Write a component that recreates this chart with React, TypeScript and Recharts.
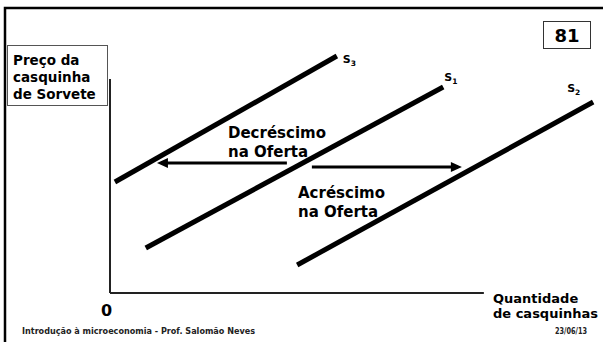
import * as React from "react";
import { LineChart, Line, XAxis, YAxis, ReferenceLine } from "recharts";

// supply curves: quantity (x) and price (y), two ends each
const s3Qty = [0.1, 4.63];
const s3Price = [2.22, 4.74];
const s1Qty = [0.73, 6.8];
const s1Price = [0.9, 4.12];
const s2Qty = [3.82, 9.86];
const s2Price = [0.56, 3.82];

// shift arrows: start -> end
const decreaseQty = [3.61, 1.04];
const decreasePrice = [2.6, 2.6];
const increaseQty = [4.12, 7.1];
const increasePrice = [2.52, 2.52];

// axes extent
const axisQtyMax = 7.63;
const axisPriceMax = 4.28;

const toPoints = (q: number[], p: number[]) => q.map((v, i) => ({ q: v, p: p[i] }));

const FONT = "'DejaVu Sans', Verdana, sans-serif";

function supplyLabel(sub: string, dx: number, dy: number) {
  return (props: any) => {
    if (props.index !== 1) return <g key={props.index} />;
    return (
      <text
        key="lbl"
        x={props.x + dx}
        y={props.y + dy}
        fontFamily={FONT}
        fontWeight="bold"
        fontSize={11}
        fill="#000"
      >
        S
        <tspan fontSize={7.5} dy={3}>
          {sub}
        </tspan>
      </text>
    );
  };
}

function arrowHead(dir: 1 | -1) {
  return (props: any) => {
    const { cx, cy, index } = props;
    if (index !== 1 || cx == null) return <g key={index} />;
    const tip = cx + dir * 4;
    const base = cx - dir * 7;
    return (
      <polygon
        key="head"
        points={`${tip},${cy} ${base},${cy - 5} ${base},${cy + 5}`}
        fill="#000"
      />
    );
  };
}

export default function App() {
  const line = { stroke: "#000", isAnimationActive: false, activeDot: false, type: "linear" as const };
  return (
    <div style={{ position: "absolute", left: 0, top: 0, width: 603, height: 342, background: "#fff" }}>
      <LineChart width={603} height={342} margin={{ top: 43, right: 3, bottom: 49, left: 110 }}>
        <XAxis type="number" dataKey="q" domain={[0, 10]} hide allowDataOverflow />
        <YAxis type="number" dataKey="p" domain={[0, 5]} hide allowDataOverflow />
        <ReferenceLine
          segment={[{ x: 0, y: 0 }, { x: 0, y: axisPriceMax }]}
          stroke="#222"
          strokeWidth={2}
          ifOverflow="visible"
        />
        <ReferenceLine
          segment={[{ x: 0, y: 0 }, { x: axisQtyMax, y: 0 }]}
          stroke="#222"
          strokeWidth={2}
          ifOverflow="visible"
        />
        <Line {...line} data={toPoints(s3Qty, s3Price)} dataKey="p" strokeWidth={5} dot={false} label={supplyLabel("3", 6, 7)} />
        <Line {...line} data={toPoints(s1Qty, s1Price)} dataKey="p" strokeWidth={5} dot={false} label={supplyLabel("1", 1, -6)} />
        <Line {...line} data={toPoints(s2Qty, s2Price)} dataKey="p" strokeWidth={5} dot={false} label={supplyLabel("2", -26, -10)} />
        <Line {...line} data={toPoints(decreaseQty, decreasePrice)} dataKey="p" strokeWidth={3} dot={arrowHead(-1)} />
        <Line {...line} data={toPoints(increaseQty, increasePrice)} dataKey="p" strokeWidth={3} dot={arrowHead(1)} />
      </LineChart>
      <svg
        width={603}
        height={342}
        style={{ position: "absolute", left: 0, top: 0, pointerEvents: "none" }}
        fontFamily={FONT}
        fontWeight="bold"
      >
        <rect x={5} y={8} width={700} height={400} fill="none" stroke="#000" strokeWidth={2.5} />
        <rect x={7.5} y={45.5} width={100} height={60} fill="none" stroke="#555" strokeWidth={1} />
        <text fontSize={13.5} fill="#000">
          <tspan x={13} y={65}>Preço da</tspan>
          <tspan x={13} y={82}>casquinha</tspan>
          <tspan x={13} y={99}>de Sorvete</tspan>
        </text>
        <rect x={543.5} y={21.5} width={47} height={27} fill="#fff" stroke="#333" strokeWidth={1} />
        <text x={567} y={42} fontSize={18} textAnchor="middle" fill="#000">81</text>
        <text fontSize={15} fill="#000">
          <tspan x={228} y={138}>Decréscimo</tspan>
          <tspan x={228} y={157}>na Oferta</tspan>
        </text>
        <text fontSize={15} fill="#000">
          <tspan x={298} y={198}>Acréscimo</tspan>
          <tspan x={298} y={217}>na Oferta</tspan>
        </text>
        <text x={101} y={316} fontSize={16} fill="#000">0</text>
        <text fontSize={13} fill="#000">
          <tspan x={493} y={303}>Quantidade</tspan>
          <tspan x={493} y={318}>de casquinhas</tspan>
        </text>
        <text x={22} y={334} fontSize={8} fill="#222" textLength={233} lengthAdjust="spacingAndGlyphs">
          Introdução à microeconomia - Prof. Salomão Neves
        </text>
        <text x={555} y={334} fontSize={8} fill="#222" textLength={32} lengthAdjust="spacingAndGlyphs">
          23/06/13
        </text>
      </svg>
    </div>
  );
}
